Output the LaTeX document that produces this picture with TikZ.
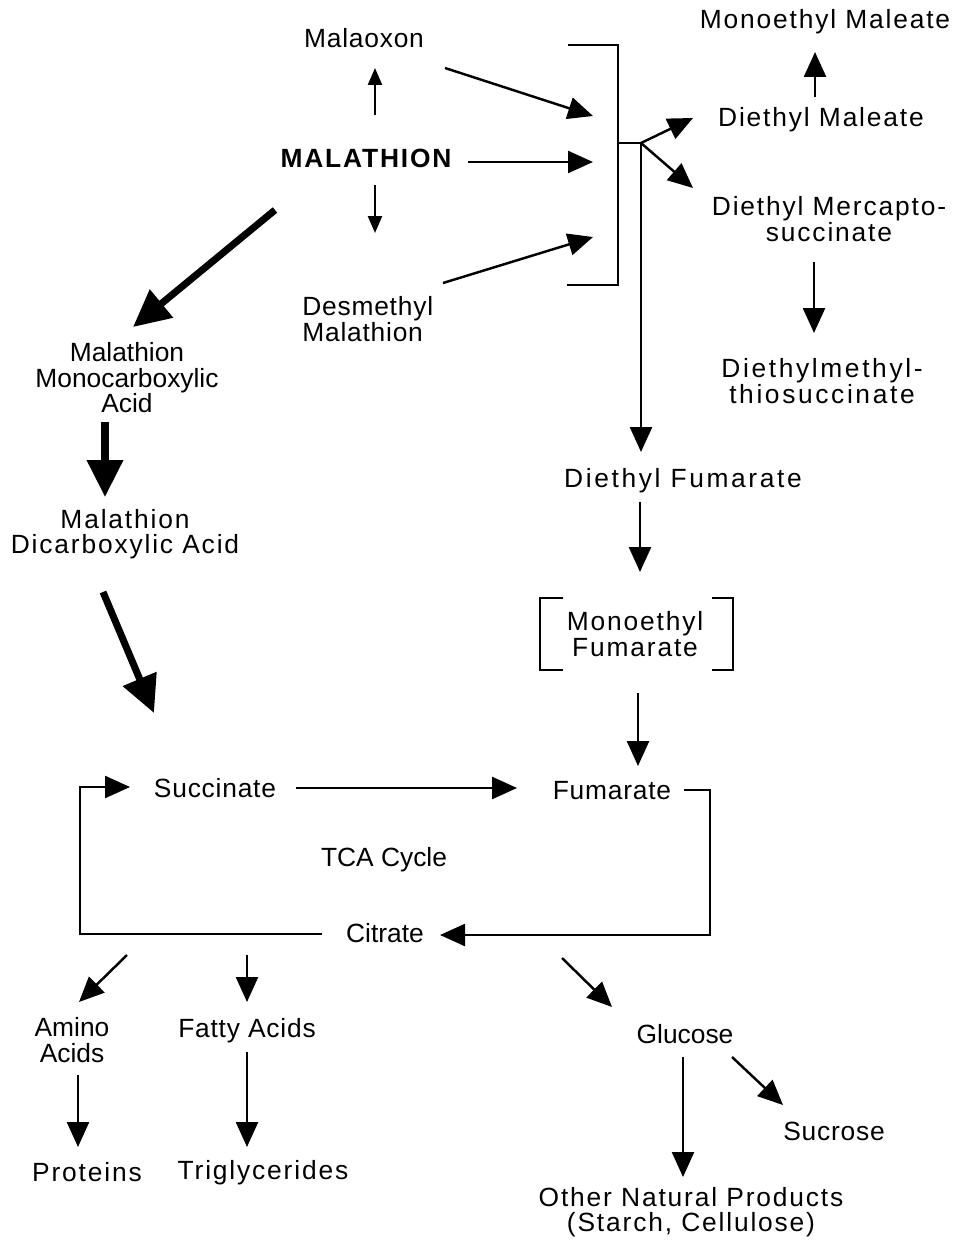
\documentclass[tikz,border=0pt]{standalone}
\usepackage{fontspec}
\setmainfont{Liberation Sans}
\newfontfamily\lightsp[LetterSpace=3]{Liberation Sans}
\newfontfamily\widesp[LetterSpace=7]{Liberation Sans}
\newfontfamily\widersp[LetterSpace=10]{Liberation Sans}
\usepackage{tikz}
\usetikzlibrary{positioning,calc,arrows.meta}

\begin{document}
\begin{tikzpicture}[
        x=0.02cm, y=-0.02cm,
        chem/.style={inner sep=0pt, align=center, font=\fontsize{15}{14.5}\selectfont},
        chemlight/.style={chem, font=\fontsize{15}{14.5}\selectfont\lightsp},
        chemwide/.style={chem, font=\fontsize{15}{14.5}\selectfont\widesp},
        thinline/.style={-, line width=1.4pt},
        thinarrow/.style={-{Triangle[length=0.5cm, width=0.44cm]}, line width=1.4pt},
        smallarrow/.style={-{Triangle[length=0.34cm, width=0.28cm]}, line width=1.4pt},
        thickarrow/.style={-{Triangle[length=0.74cm, width=0.7cm]}, line width=4pt}
      ]
      \useasboundingbox (0,0) rectangle (967,1240);

      % Malathion and first products
      \node[chemlight] (malaoxon) at (364,38) {Malaoxon};
      \node[chem, font=\fontsize{15}{14.5}\selectfont\widesp\bfseries] (malathion) at (366,158) {MALATHION};
      \node[chemlight, align=left, anchor=west] (desmethyl) at (302,319) {Desmethyl\\Malathion};

      % Ester branch (right)
      \node[chemwide] (monomal) at (825,22) {Monoethyl Maleate};
      \node[chemwide] (diemal) at (821,120) {Diethyl Maleate};
      \node[chemwide] (mercapto) at (829,219) {Diethyl Mercapto-\\succinate};
      \node[chem, font=\fontsize{15}{14.5}\selectfont\widersp] (methylthio) at (822,381) {Diethylmethyl-\\thiosuccinate};
      \node[chem, font=\fontsize{15}{14.5}\selectfont\widersp] (diefum) at (683,481) {Diethyl Fumarate};
      \node[chemwide] (monofum) at (635,634) {Monoethyl\\Fumarate};

      % Acid branch (left)
      \node[chem] (monocarb) at (127,378) {Malathion\\Monocarboxylic\\Acid};
      \node[chemwide] (dicarb) at (125,534) {Malathion\\Dicarboxylic Acid};

      % TCA cycle
      \node[chemlight] (succinate) at (215,788) {Succinate};
      \node[chemlight] (fumarate) at (612,791) {Fumarate};
      \node[chem] (tca) at (384,860) {TCA Cycle};
      \node[chem] (citrate) at (385,933) {Citrate};

      % End products
      \node[chem] (amino) at (72,1040) {Amino\\Acids};
      \node[chemlight] (fatty) at (247,1031) {Fatty Acids};
      \node[chemwide] (proteins) at (87,1172) {Proteins};
      \node[chemwide] (trigly) at (263,1173) {Triglycerides};
      \node[chem] (glucose) at (685,1034) {Glucose};
      \node[chemlight] (sucrose) at (834,1131) {Sucrose};
      \node[chemwide] (other) at (691,1212) {Other Natural Products\\(Starch, Cellulose)};

      % Bracket collecting the three esters
      \coordinate (junc) at (618,143);
      \coordinate (fork) at (641,143);
      \draw[thinline] ($(junc)+(-50,-98)$) -- ++(50,0) -- ($(junc)+(0,142)$) -- ++(-51,0);
      \draw[thinline] (junc) -- (fork);

      % Bracket round Monoethyl Fumarate
      \draw[thinline] ($(monofum)+(-72,-36)$) -- ++(-23,0) -- ++(0,72) -- ++(23,0);
      \draw[thinline] ($(monofum)+(77,-36)$) -- ++(21,0) -- ++(0,72) -- ++(-21,0);

      % Arrows from Malathion
      \draw[smallarrow] ($(malathion)+(9,-43)$) -- ($(malaoxon)+(11,30)$);
      \draw[smallarrow] ($(malathion)+(9,27)$) -- ($(desmethyl.west)+(73,-86)$);
      \draw[thinarrow] ($(malaoxon)+(81,30)$) -- ($(junc)+(-25,-27)$);
      \draw[thinarrow] ($(malathion)+(102,4)$) -- ($(junc)+(-25,19)$);
      \draw[thinarrow] ($(desmethyl.west)+(141,-36)$) -- ($(junc)+(-25,94)$);

      % Ester branch arrows
      \draw[thinarrow] (fork) -- ($(diemal)+(-128,-2)$);
      \draw[thinarrow] (fork) -- ($(mercapto)+(-136,-31)$);
      \draw[thinarrow] (fork) -- ($(diefum)+(-42,-29)$);
      \draw[thinarrow] ($(diemal)+(-6,-23)$) -- ($(monomal)+(-10,30)$);
      \draw[thinarrow] ($(mercapto)+(-15,43)$) -- ($(methylthio)+(-8,-48)$);
      \draw[thinarrow] ($(diefum)+(-43,21)$) -- ($(monofum)+(5,-62)$);
      \draw[thinarrow] ($(monofum)+(3,59)$) -- ($(fumarate)+(26,-25)$);

      % Acid branch arrows (heavy)
      \draw[thickarrow] ($(malathion)+(-91,52)$) -- ($(monocarb)+(6,-51)$);
      \draw[thickarrow] ($(monocarb)+(-22,44)$) -- ($(dicarb)+(-20,-37)$);
      \draw[thickarrow] ($(dicarb)+(-22,58)$) -- ($(succinate)+(-61,-75)$);

      % TCA cycle loop
      \draw[thinarrow] ($(succinate)+(81,0)$) -- ($(fumarate)+(-95,-3)$);
      \draw[thinarrow] ($(fumarate)+(72,-1)$) -- ++(26,0) |- ($(citrate)+(55,2)$);
      \draw[thinarrow] ($(citrate)+(-63,1)$) -| ($(succinate)+(-135,-1)$) -- ($(succinate)+(-85,-1)$);

      % Products of citrate
      \draw[thinarrow] ($(citrate)+(-258,22)$) -- ($(amino)+(7,-38)$);
      \draw[thinarrow] ($(citrate)+(-138,22)$) -- ($(fatty)+(0,-29)$);
      \draw[thinarrow] ($(citrate)+(177,25)$) -- ($(glucose)+(-73,-27)$);
      \draw[thinarrow] ($(amino)+(6,35)$) -- ($(proteins)+(-9,-25)$);
      \draw[thinarrow] ($(fatty)+(0,21)$) -- ($(trigly)+(-16,-26)$);
      \draw[thinarrow] ($(glucose)+(-2,23)$) -- ($(other)+(-8,-35)$);
      \draw[thinarrow] ($(glucose)+(47,23)$) -- ($(sucrose)+(-51,-26)$);

    \end{tikzpicture}
\end{document}
